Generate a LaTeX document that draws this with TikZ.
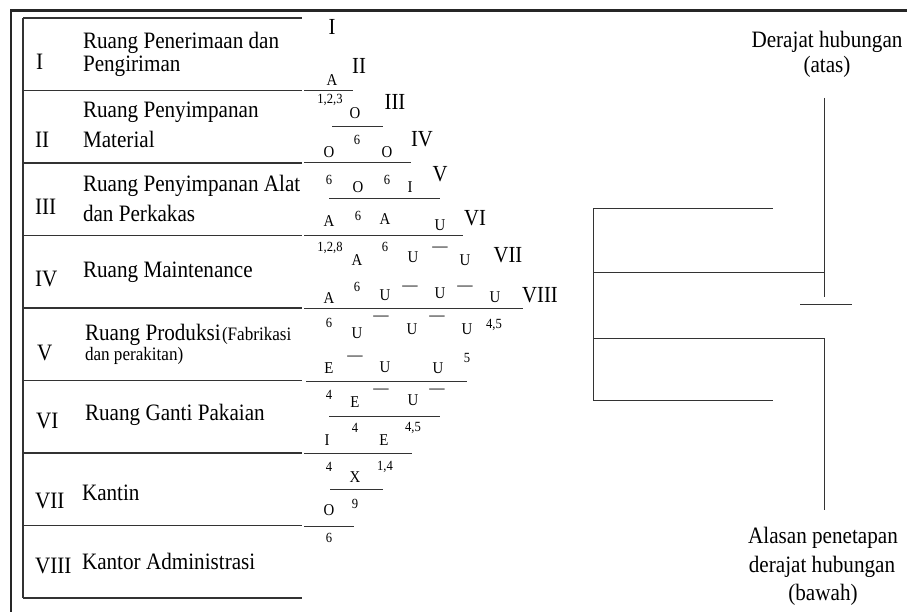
\documentclass[tikz,border=0pt]{standalone}
\usepackage{fontspec}
\setmainfont{Liberation Serif}[FakeStretch=0.9]
\begin{document}
\begin{tikzpicture}[x=1pt,y=-1pt,
  every node/.style={inner sep=0pt, outer sep=0pt, text=black},
  frame/.style={line width=2.6pt, black!85},
  rule/.style={line width=1.2pt, black!80},
  link/.style={line width=1pt, black!80},
  roomno/.style={anchor=base west, font=\fontsize{23.5}{24}\selectfont},
  roomname/.style={anchor=base west, font=\fontsize{23.5}{24}\selectfont},
  smallname/.style={anchor=base west, font=\fontsize{19}{20}\selectfont},
  colno/.style={anchor=base, font=\fontsize{23}{23}\selectfont},
  rel/.style={font=\fontsize{16.5}{17}\selectfont},
  why/.style={font=\fontsize{14}{14}\selectfont},
  nil/.style={font=\fontsize{17}{17}\selectfont},
  legend/.style={font=\fontsize{23.5}{24}\selectfont},
]
\useasboundingbox (0,0) rectangle (907,612);
\fill[white] (0,0) rectangle (907,612);

% outer frame (top and left)
\draw[frame] (907,10.5) -- (11,10.5) -- (11,612);

% room table
\draw[rule] (23,18) -- (23,598);
\foreach \yy in {18,90.5,163,235.5,308,380.5,453,525.5,598}
  \draw[rule] (23,\yy) -- (302,\yy);

% room numbers and names
\node[roomno] (no1) at (36,70) {I};
\node[roomname] (nm1a) at (83,49) {Ruang Penerimaan dan};
\node[roomname] (nm1b) at (83,72) {Pengiriman};
\node[roomno] (no2) at (35,148) {II};
\node[roomname] (nm2a) at (83,118) {Ruang Penyimpanan};
\node[roomname] (nm2b) at (83,148) {Material};
\node[roomno] (no3) at (35,215) {III};
\begin{scope}
  \clip (60,160) rectangle (303,200);
  \node[roomname] (nm3a) at (83,192) {Ruang Penyimpanan Alat};
\end{scope}
\node[roomname] (nm3b) at (83,222) {dan Perkakas};
\node[roomno] (no4) at (35,287) {IV};
\node[roomname] (nm4) at (83,277) {Ruang Maintenance};
\node[roomno] (no5) at (37,360) {V};
\node[roomname] (nm5a) at (85,340) {Ruang Produksi};
\node[smallname] (nm5b) at (222,340) {(Fabrikasi};
\node[smallname] (nm5c) at (85,360) {dan perakitan)};
\node[roomno] (no6) at (36,428) {VI};
\node[roomname] (nm6) at (85,420) {Ruang Ganti Pakaian};
\node[roomno] (no7) at (35,508) {VII};
\node[roomname] (nm7) at (82,500) {Kantin};
\node[roomno] (no8) at (35,573) {VIII};
\node[roomname] (nm8) at (82,569) {Kantor Administrasi};

% relationship chart: rules
\draw[link] (304,91) -- (353,91);
\draw[link] (332,127) -- (383,127);
\draw[link] (304,163) -- (411,163);
\draw[link] (329,199) -- (440,199);
\draw[link] (304,236) -- (463,236);
\draw[link] (304,308) -- (523,308);
\draw[link] (306,381) -- (467,381);
\draw[link] (329,416) -- (440,416);
\draw[link] (304,453) -- (412,453);
\draw[link] (330,489) -- (383,489);
\draw[link] (304,526) -- (354,526);

% relationship chart: column numbers
\node[colno] (col1) at (332,35) {I};
\node[colno] (col2) at (359,74) {II};
\node[colno] (col3) at (395,110) {III};
\node[colno] (col4) at (422,147) {IV};
\node[colno] (col5) at (440,182) {V};
\node[colno] (col6) at (475,226) {VI};
\node[colno] (col7) at (508,262) {VII};
\node[colno] (col8) at (540,302) {VIII};

% relationship chart: degree letters
\foreach \t/\x/\y [count=\i] in {
  A/332/80, O/355/113, O/329/152, O/387/152, O/358/187, I/410/187,
  A/329/221, A/385/219, U/440/225, A/357/260, U/413/257, U/465/260,
  A/329/298, U/385/295, U/440/293, U/495/297, U/357/333, U/412/329,
  U/467/329, E/329/368, U/385/367, U/438/368, E/355/402, U/413/400,
  I/327/440, E/384/440, X/355/477, O/329/510}
  \node[rel] (deg-\i) at (\x,\y) {\t};

% relationship chart: reason codes
\foreach \t/\x/\y [count=\i] in {
  {1,2,3}/330/100, 6/357/140, 6/329/180, 6/387/180, 6/358/216,
  {1,2,8}/330/248, 6/385/247, 6/357/287, 6/329/323, {4,5}/494/325,
  5/467/358, 4/329/395, 4/355/428, {4,5}/413/428, 4/329/467,
  {1,4}/385/467, 9/355/504, 6/329/538}
  \node[why] (why-\i) at (\x,\y) {\t};

% relationship chart: empty reason marks
\foreach \x/\y [count=\i] in {
  440/249, 410/288, 465/288, 381/318, 437/318, 355/358, 381/391, 437/391}
  \node[nil] (nil-\i) at (\x,\y) {\textemdash};

% key of a chart cell
\node[legend] (keyT1) at (827,42) {Derajat hubungan};
\node[legend] (keyT2) at (827,67) {(atas)};
\node[legend] (keyB1) at (823,538) {Alasan penetapan};
\node[legend] (keyB2) at (822,567) {derajat hubungan};
\node[legend] (keyB3) at (823,595) {(bawah)};

\coordinate (kUp) at (824,98);
\coordinate (kUpEnd) at (824,297);
\coordinate (kDn) at (824,510);
\draw[link] (kUp) -- (kUpEnd);
\draw[link] (800,304) -- (852,304);
\draw[link] (593,209) -- (773,209);
\draw[link] (593,273) -- (824,273);
\draw[link] (593,338) -- (824,338) -- (kDn);
\draw[link] (593,400) -- (773,400);
\draw[link] (593,209) -- (593,400);
\end{tikzpicture}
\end{document}
